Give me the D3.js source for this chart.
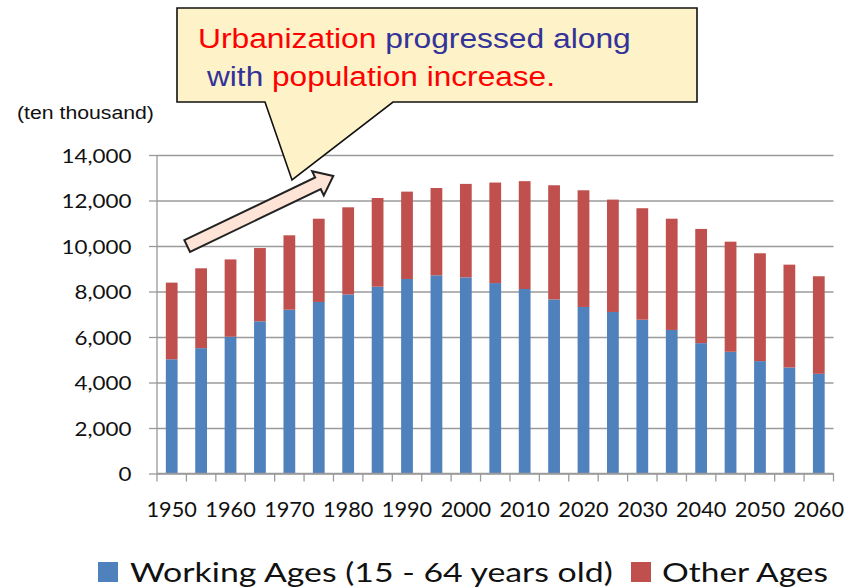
<!DOCTYPE html>
<html>
<head>
<meta charset="utf-8">
<script src="https://cdn.jsdelivr.net/npm/d3@7"></script>
<style>
  html, body { margin: 0; padding: 0; background: #ffffff; }
  svg { display: block; }
</style>
</head>
<body>
<svg id="chart" width="863" height="588"></svg>
<script>
// ---------------- data ----------------
const years = [1950, 1955, 1960, 1965, 1970, 1975, 1980, 1985, 1990, 1995, 2000, 2005,
               2010, 2015, 2020, 2025, 2030, 2035, 2040, 2045, 2050, 2055, 2060];
const working = [5020, 5510, 6010, 6690, 7200, 7540, 7870, 8210, 8550, 8710, 8620, 8370,
                 8110, 7650, 7320, 7100, 6760, 6310, 5730, 5350, 4940, 4660, 4380];
const other   = [3370, 3510, 3400, 3220, 3270, 3660, 3830, 3900, 3840, 3840, 4110, 4420,
                 4740, 5020, 5130, 4940, 4900, 4890, 5020, 4840, 4740, 4520, 4290];
const yTickValues = [0, 2000, 4000, 6000, 8000, 10000, 12000, 14000];
const xTickLabels = ["1950", "1960", "1970", "1980", "1990", "2000", "2010", "2020",
                     "2030", "2040", "2050", "2060"];
const seriesNames = ["Working Ages (15 - 64 years old)", "Other Ages"];
const seriesColors = ["#4f81bd", "#c0504d"];
const unitLabel = "(ten thousand)";
const calloutLine1 = [["Urbanization", "#ff0000"], [" progressed along", "#333399"]];
const calloutLine2 = [["with", "#333399"], [" population increase.", "#ff0000"]];

// ---------------- layout ----------------
const svg = d3.select("#chart");
const plot = { left: 157, right: 833.5, top: 155, bottom: 473.5 };
const gridColor = "#9a9a9a";

const x = d3.scaleBand()
  .domain(years)
  .range([plot.left, plot.right])
  .paddingInner(0.6)
  .paddingOuter(0.3);
const y = d3.scaleLinear().domain([0, 14000]).range([plot.bottom, plot.top]);

const table = years.map((yr, i) => ({ year: yr, working: working[i], other: other[i] }));
const stacked = d3.stack().keys(["working", "other"])(table);

// gridlines
svg.append("g")
  .attr("transform", `translate(${plot.left},0)`)
  .call(d3.axisLeft(y).tickValues(yTickValues).tickSize(-(plot.right - plot.left)).tickFormat(""))
  .call(g => g.select(".domain").remove())
  .call(g => g.selectAll("line").attr("stroke", gridColor).attr("stroke-width", 1.3));

// y axis
const yAxis = svg.append("g")
  .attr("transform", `translate(${plot.left},0)`)
  .call(d3.axisLeft(y).tickValues(yTickValues).tickSize(8).tickPadding(0).tickFormat(d3.format(",")));
yAxis.select(".domain").attr("stroke", gridColor).attr("stroke-width", 1.3)
  .attr("d", `M0,${plot.bottom}V${plot.top}`);
yAxis.selectAll(".tick line").attr("stroke", gridColor).attr("stroke-width", 1.3);
yAxis.selectAll(".tick text")
  .attr("x", 0)
  .attr("dy", "0.36em")
  .attr("font-family", "Lato, 'Open Sans', sans-serif")
  .attr("font-size", 20)
  .attr("fill", "#111")
  .attr("transform", "translate(-25.5,0) scale(1.12,1)");

// bars
svg.append("g").selectAll("g")
  .data(stacked)
  .join("g")
  .attr("fill", (d, i) => seriesColors[i])
  .selectAll("rect")
  .data(d => d)
  .join("rect")
  .attr("x", d => x(d.data.year))
  .attr("width", x.bandwidth())
  .attr("y", d => y(d[1]))
  .attr("height", d => y(d[0]) - y(d[1]));

// x axis line and tick marks at category boundaries
const step = x.step();
const boundaries = years.map(yr => x(yr) + x.bandwidth() / 2 - step / 2).concat([plot.right]);
const xAxis = svg.append("g");
xAxis.append("line")
  .attr("x1", plot.left).attr("x2", plot.right)
  .attr("y1", y(0)).attr("y2", y(0))
  .attr("stroke", gridColor).attr("stroke-width", 1.3);
xAxis.selectAll("line.tk")
  .data(boundaries)
  .join("line")
  .attr("class", "tk")
  .attr("x1", d => d).attr("x2", d => d)
  .attr("y1", y(0)).attr("y2", y(0) + 8)
  .attr("stroke", gridColor).attr("stroke-width", 1.3);
xAxis.selectAll("text")
  .data(xTickLabels)
  .join("text")
  .attr("transform", d => `translate(${x(+d) + x.bandwidth() / 2},517) scale(1.06,1)`)
  .attr("text-anchor", "middle")
  .attr("font-family", "Lato, 'Open Sans', sans-serif")
  .attr("font-size", 20.5)
  .attr("fill", "#111")
  .text(d => d);

// unit label
function fitText(sel, targetWidth) {
  const n = sel.node();
  const w = n.getComputedTextLength();
  return targetWidth / w;
}
const unit = svg.append("text")
  .attr("font-family", "'Liberation Sans', Arial, sans-serif")
  .attr("font-size", 19)
  .attr("fill", "#111")
  .text(unitLabel);
unit.attr("transform", `translate(17,119) scale(${fitText(unit, 137)},1)`);

// legend
const legendItems = [
  { name: seriesNames[0], color: seriesColors[0], sx: 98, tx: 130, tw: 483 },
  { name: seriesNames[1], color: seriesColors[1], sx: 631, tx: 662, tw: 166 }
];
legendItems.forEach(it => {
  svg.append("rect").attr("x", it.sx).attr("y", 562).attr("width", 20).attr("height", 20)
    .attr("fill", it.color);
  const t = svg.append("text")
    .attr("font-family", "Lato, 'Open Sans', sans-serif")
    .attr("font-size", 26.5)
    .attr("fill", "#111")
    .text(it.name);
  t.attr("transform", `translate(${it.tx},581.5) scale(${fitText(t, it.tw)},1)`);
});

// annotation arrow (outlined block arrow)
(function () {
  const x0 = 187.2, y0 = 246, x1 = 333.3, y1 = 176;
  const L = Math.hypot(x1 - x0, y1 - y0);
  const ang = Math.atan2(y1 - y0, x1 - x0) * 180 / Math.PI;
  const hw = 6.5, hh = 13.5, hl = 17;
  const pts = [[0, -hw], [L - hl, -hw], [L - hl, -hh], [L, 0], [L - hl, hh], [L - hl, hw], [0, hw]];
  svg.append("path")
    .attr("d", "M" + pts.map(p => p.join(",")).join("L") + "Z")
    .attr("transform", `translate(${x0},${y0}) rotate(${ang})`)
    .attr("fill", "#fde4d6")
    .attr("stroke", "#222")
    .attr("stroke-width", 2)
    .attr("stroke-linejoin", "miter");
})();

// callout box
svg.append("path")
  .attr("d", "M177,8H697V102H393L292,180L265,102H177Z")
  .attr("fill", "#fdf2c8")
  .attr("stroke", "#111")
  .attr("stroke-width", 1.6)
  .attr("stroke-linejoin", "miter");

function calloutText(parts, xPos, yPos, width) {
  const t = svg.append("text")
    .attr("font-family", "'Liberation Sans', Arial, sans-serif")
    .attr("font-size", 28)
    .attr("xml:space", "preserve");
  parts.forEach(([s, c]) => t.append("tspan").attr("fill", c).text(s));
  t.attr("transform", `translate(${xPos},${yPos}) scale(${fitText(t, width)},1)`);
}
calloutText(calloutLine1, 198, 48, 433);
calloutText(calloutLine2, 207, 86, 348);
</script>
</body>
</html>
